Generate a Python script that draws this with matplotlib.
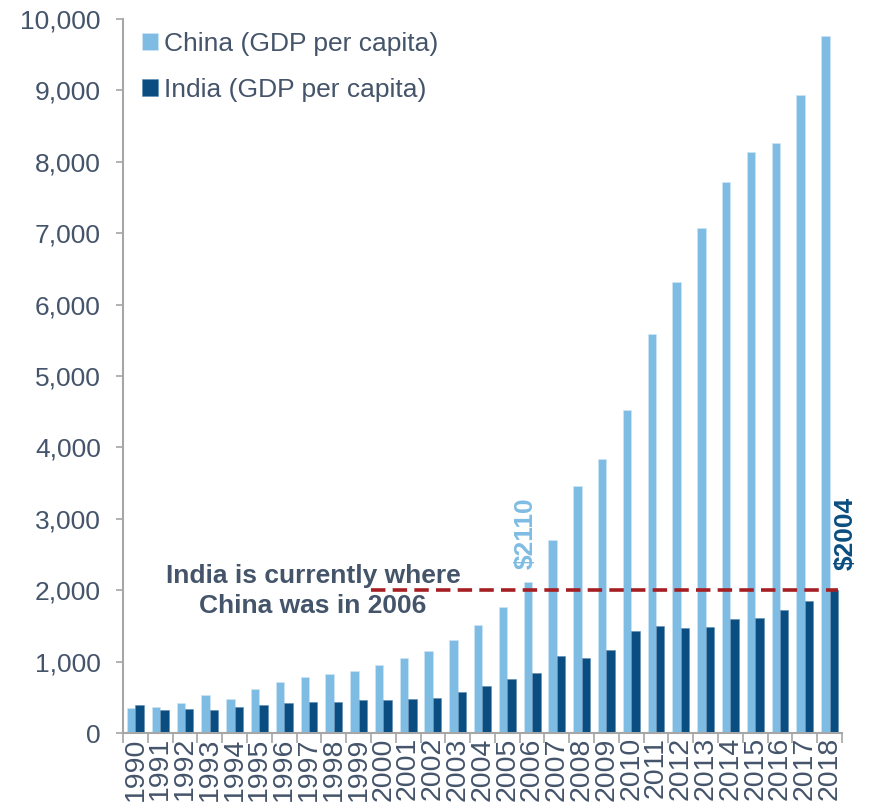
import matplotlib.pyplot as plt
import numpy as np

years = [str(y) for y in range(1990, 2019)]
china = [355, 364, 425, 528, 476, 612, 710, 784, 826, 873, 959, 1050, 1153, 1298,
         1512, 1765, 2110, 2703, 3460, 3838, 4524, 5588, 6317, 7073, 7717, 8137,
         8263, 8936, 9762]
india = [388, 318, 336, 318, 364, 392, 420, 434, 434, 467, 467, 476, 490, 574,
         658, 752, 840, 1083, 1050, 1158, 1428, 1494, 1471, 1480, 1597, 1606,
         1718, 1853, 2004]
yticks = list(range(0, 10001, 1000))

CHINA_C = "#7FBCE3"
INDIA_C = "#0A4D80"
TEXT_C = "#44546A"
RED_C = "#A51E22"
AXIS_C = "#A6A6A6"

plt.rcParams['font.family'] = ['Liberation Sans', 'DejaVu Sans']

fig = plt.figure(figsize=(8.71, 8.08), dpi=100)
ax = fig.add_axes([0.1412, 0.0928, 0.8255, 0.8837])

x = np.arange(len(years))
w = 0.34
ax.bar(x - w / 2, china, w, color=CHINA_C, edgecolor="#CFE6F5", linewidth=0.4,
       label="China (GDP per capita)")
ax.bar(x + w / 2, india, w, color=INDIA_C, edgecolor="#5E8DB3", linewidth=0.4,
       label="India (GDP per capita)")

ax.set_xlim(-0.5, len(years) - 0.5)
ax.set_ylim(0, 10000)
ax.set_yticks(yticks)
ax.set_yticklabels([f"{v:,}" for v in yticks])
ax.set_xticks(x)
ax.set_xticklabels(years, rotation=90)
ax.set_xticks(np.arange(-0.5, len(years), 1), minor=True)
ax.tick_params(axis="x", which="major", length=0, pad=3, labelsize=20.5, labelcolor=TEXT_C)
ax.tick_params(axis="x", which="minor", length=7, color=AXIS_C, width=1.2)
ax.tick_params(axis="y", length=5, color=AXIS_C, width=1.2, labelsize=19, labelcolor=TEXT_C, pad=11)

for s in ["top", "right"]:
    ax.spines[s].set_visible(False)
for s in ["left", "bottom"]:
    ax.spines[s].set_color(AXIS_C)
    ax.spines[s].set_linewidth(1.5)

# dashed reference line at India's 2018 level
ax.hlines(india[-1], 9.5, len(years) - 0.65, colors=RED_C, linestyles=(0, (4, 2)), linewidth=2.6)

ax.text(7.17, 1990, "India is currently where\nChina was in 2006", ha="center",
        va="center", fontsize=19, fontweight="bold", color=TEXT_C, linespacing=1.3)
ax.text(15.75, 2800, "$2110", rotation=90, ha="center", va="center",
        fontsize=19, fontweight="bold", color=CHINA_C)
ax.text(28.63, 2790, "$2004", rotation=90, ha="center", va="center",
        fontsize=19, fontweight="bold", color=INDIA_C, clip_on=False)

leg = ax.legend(loc="upper left", bbox_to_anchor=(-0.007, 1.015), frameon=False, fontsize=19,
                handlelength=0.6, handleheight=0.6, handletextpad=0.25, labelspacing=0.82)
for t in leg.get_texts():
    t.set_color(TEXT_C)

fig.savefig("out.png", dpi=100)
